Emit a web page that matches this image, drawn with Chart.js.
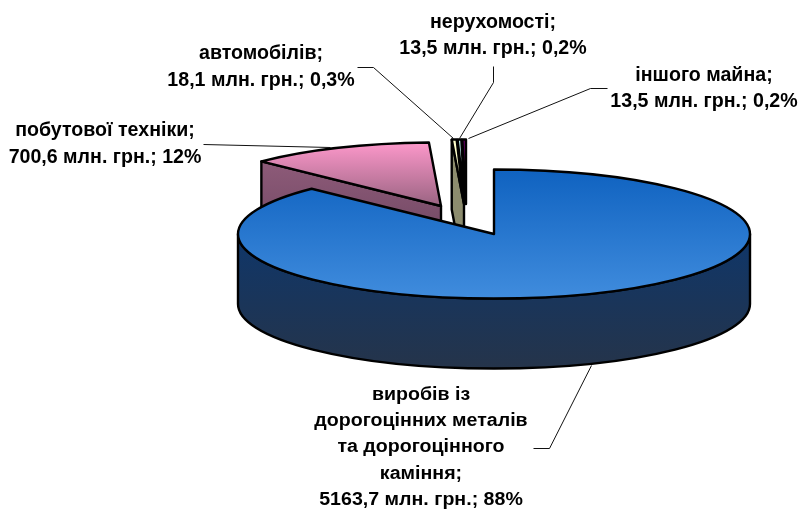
<!DOCTYPE html>
<html><head><meta charset="utf-8">
<style>html,body{margin:0;padding:0;background:#fff}canvas{display:block}</style>
<script src="https://cdn.jsdelivr.net/npm/chart.js@4"></script>
</head><body>
<canvas id="c" width="798" height="509"></canvas>
<script>
const categories = [
  ['виробів із','дорогоцінних металів','та дорогоцінного','каміння'],
  ['побутової техніки'],
  ['автомобілів'],
  ['нерухомості'],
  ['іншого майна']
];
const values = [5163.7, 700.6, 18.1, 13.5, 13.5];
const percents = ['88%', '12%', '0,3%', '0,2%', '0,2%'];
const unit = 'млн. грн.';

const TILT = 64.5 / 256, DEPTH = 70;
const explode = [[0,0],[-53,-28],[-30,-30],[-29,-30],[-28,-30]];
const shrink = [1,.985,1,1,1];
const labelPos = [
  {x:421,y:395,lh:26.25,sy:.9,size:19.6},
  {x:105,y:131,lh:26.5, sy:1, size:19.6},
  {x:261,y:54, lh:26.5, sy:1, size:19.6},
  {x:493,y:23, lh:26,   sy:1, size:19.6},
  {x:704,y:75.5,lh:26,  sy:1, size:19.6}
];
const leaders = [
  [[591,365],[549,448],[533,448]],
  [[203,144],[330,147]],
  [[357,67],[373,67],[453,138]],
  [[493,66],[493,82],[459,138]],
  [[607,88],[590,88],[468,138]]
];
const topFill = [['#0f62c0','#408cdd',169,298],['#ff99cc','#96627f',141,208],['#ffffcc','#ffffcc',0,1],['#ccffff','#ccffff',0,1],['#660066','#660066',0,1]];

function grad(ctx,a,b,y0,y1){const g=ctx.createLinearGradient(0,y0,0,y1);g.addColorStop(0,a);g.addColorStop(1,b);return g;}
function poly(ctx,pts,fill,lw){ctx.beginPath();pts.forEach((p,i)=>i?ctx.lineTo(p[0],p[1]):ctx.moveTo(p[0],p[1]));ctx.closePath();
  if(fill){ctx.fillStyle=fill;ctx.fill();} ctx.lineWidth=lw||2.4;ctx.strokeStyle='#000';ctx.lineJoin='round';ctx.stroke();}

const pie3d = {
  id:'pie3d',
  beforeDatasetsDraw(chart){
    const ctx = chart.ctx, arcs = chart.getDatasetMeta(0).data;
    const geo = arcs.map((el,i)=>{
      const rx = el.outerRadius*shrink[i], ry = rx*TILT, cx = el.x+explode[i][0], cy = el.y+explode[i][1];
      const pt = a=>[cx+rx*Math.cos(a), cy+ry*Math.sin(a)];
      return {cx,cy,rx,ry,a0:el.startAngle,a1:el.endAngle,p0:pt(el.startAngle),p1:pt(el.endAngle)};
    });
    const top = i=>{
      const g=geo[i], t=topFill[i];
      ctx.beginPath();ctx.moveTo(g.cx,g.cy);ctx.ellipse(g.cx,g.cy,g.rx,g.ry,0,g.a0,g.a1);ctx.closePath();
      ctx.fillStyle=grad(ctx,t[0],t[1],t[2],t[3]);ctx.fill();
      ctx.lineWidth=2.4;ctx.strokeStyle='#000';ctx.lineJoin='round';ctx.stroke();
    };
    const cut = (g,p,fill)=>poly(ctx,[[g.cx,g.cy],p,[p[0],p[1]+DEPTH],[g.cx,g.cy+DEPTH]],fill);
    ctx.save();
    cut(geo[1],geo[1].p0,grad(ctx,'#8e5b79','#65405a',160,276));
    top(1);
    cut(geo[2],geo[2].p0,'#8c8c6e');
    top(2);top(3);top(4);
    const b=geo[0];
    ctx.beginPath();ctx.ellipse(b.cx,b.cy,b.rx,b.ry,0,0,Math.PI);
    ctx.lineTo(b.cx-b.rx,b.cy+DEPTH);ctx.ellipse(b.cx,b.cy+DEPTH,b.rx,b.ry,0,Math.PI,0,true);ctx.closePath();
    ctx.fillStyle=grad(ctx,'#0f3669','#25344a',236,369);ctx.fill();
    ctx.lineWidth=2.4;ctx.strokeStyle='#000';ctx.stroke();
    top(0);
    ctx.restore();
  },
  afterDatasetsDraw(chart){
    const ctx=chart.ctx;
    ctx.save();
    ctx.strokeStyle='#111';ctx.lineWidth=1;
    leaders.forEach(l=>{ctx.beginPath();l.forEach((p,i)=>i?ctx.lineTo(p[0]+.5,p[1]+.5):ctx.moveTo(p[0]+.5,p[1]+.5));ctx.stroke();});
    ctx.fillStyle='#000';ctx.textAlign='center';ctx.textBaseline='middle';
    categories.forEach((cat,i)=>{
      const lines=cat.slice();lines[lines.length-1]+=';';
      lines.push(String(values[i]).replace('.',',')+' '+unit+'; '+percents[i]);
      const p=labelPos[i];
      ctx.font='bold '+p.size+'px "Liberation Sans", Arial, sans-serif';
      lines.forEach((t,k)=>{ctx.save();ctx.translate(p.x,p.y+k*p.lh);ctx.scale(1,p.sy);ctx.fillText(t,0,0);ctx.restore();});
    });
    ctx.restore();
  }
};

new Chart(document.getElementById('c'),{
  type:'pie',
  data:{labels:categories.map(c=>c.join(' ')),datasets:[{data:values,backgroundColor:'rgba(0,0,0,0)',borderWidth:0,hoverOffset:0}]},
  options:{responsive:false,animation:false,radius:256,
    layout:{padding:{left:190,bottom:41}},
    events:[],
    plugins:{legend:{display:false},tooltip:{enabled:false}}},
  plugins:[pie3d]
});
</script>
</body></html>
